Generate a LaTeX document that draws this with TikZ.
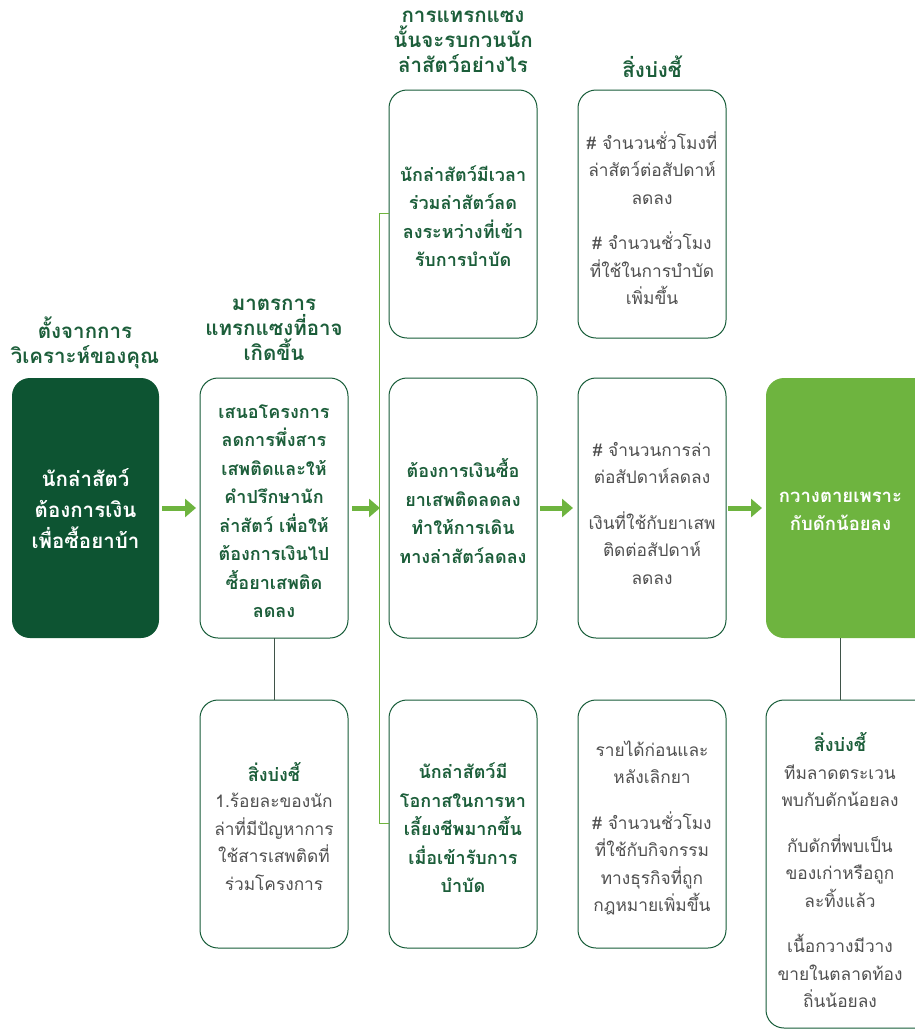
\documentclass[tikz,border=0pt]{standalone}
\usepackage{fontspec}
\newfontfamily\thai[Script=Thai]{Loma}
\usetikzlibrary{arrows.meta}
\definecolor{dgreen}{RGB}{13,84,50}
\definecolor{bgreen}{RGB}{22,92,56}
\definecolor{lgreen}{RGB}{110,180,63}
\definecolor{htext}{RGB}{28,94,58}
\definecolor{gtext}{RGB}{80,80,80}
\tikzset{
  box/.style={draw=bgreen, line width=1pt, rounded corners=18pt, fill=white},
  darkbox/.style={fill=dgreen, rounded corners=18pt},
  greenbox/.style={fill=lgreen, rounded corners=18pt},
  head/.style={align=center, text=htext, font=\thai\bfseries\fontsize{20.5}{25}\selectfont, inner sep=0pt},
  boldtxt/.style={align=center, text=htext, font=\thai\bfseries\fontsize{18}{28.5}\selectfont, inner sep=0pt},
  whitetxt/.style={align=center, text=white, font=\thai\bfseries\fontsize{20.5}{31}\selectfont, inner sep=0pt},
  graytxt/.style={align=center, text=gtext, font=\thai\fontsize{17.3}{27.5}\selectfont, inner sep=0pt},
  flow/.style={lgreen, line width=5pt, -{Triangle[length=11pt,width=18pt]}},
  link/.style={draw=gtext!70!bgreen, line width=0.8pt},
  bracket/.style={draw=lgreen, line width=0.8pt},
}
\begin{document}
\begin{tikzpicture}[x=1pt,y=-1pt]
\useasboundingbox (0,0) rectangle (915,1031);
\clip (0,0) rectangle (915,1031);
% headers
\node[head] (h1) at (85,343) {ตั้งจากการ\\วิเคราะห์ของคุณ};
\node[head] (h2) at (274,330) {มาตรการ\\แทรกแซงที่อาจ\\เกิดขึ้น};
\node[head] (h3) at (463,42) {การแทรกแซง\\นั้นจะรบกวนนัก\\ล่าสัตว์อย่างไร};
\node[head] (h4) at (652,67) {สิ่งบ่งชี้};
% column 1
\path[darkbox] (12,378) rectangle (159,638);
\node[whitetxt] (c1) at (85.5,509) {นักล่าสัตว์\\ต้องการเงิน\\เพื่อซื้อยาบ้า};
\coordinate (c1r) at (159,508);
% column 2
\draw[box] (200,378) rectangle (348,638);
\node[boldtxt] (c2) at (274,511) {เสนอโครงการ\\ลดการพึ่งสาร\\เสพติดและให้\\คำปรึกษานัก\\ล่าสัตว์ เพื่อให้\\ต้องการเงินไป\\ซื้อยาเสพติด\\ลดลง};
\coordinate (c2t) at (274,638);
\coordinate (c2l) at (200,508);
\coordinate (c2r) at (348,508);
\draw[box] (200,700) rectangle (348,948);
\coordinate (c2bt) at (274,700);
\node[boldtxt] (c2bh) at (274,772) {สิ่งบ่งชี้};
\node[graytxt] (c2b) at (274,842) {1.ร้อยละของนัก\\ล่าที่มีปัญหาการ\\ใช้สารเสพติดที่\\ร่วมโครงการ};
% column 3
\draw[box] (389,90) rectangle (537,338);
\node[boldtxt] (c3a) at (463,216) {นักล่าสัตว์มีเวลา\\ร่วมล่าสัตว์ลด\\ลงระหว่างที่เข้า\\รับการบำบัด};
\draw[box] (389,378) rectangle (537,638);
\node[boldtxt] (c3b) at (463,511) {ต้องการเงินซื้อ\\ยาเสพติดลดลง\\ทำให้การเดิน\\ทางล่าสัตว์ลดลง};
\draw[box] (389,700) rectangle (537,948);
\node[boldtxt] (c3c) at (463,828) {นักล่าสัตว์มี\\โอกาสในการหา\\เลี้ยงชีพมากขึ้น\\เมื่อเข้ารับการ\\บำบัด};
\coordinate (c3l) at (389,508);
\coordinate (c3r) at (537,508);
\coordinate (bt) at (379,213);
\coordinate (bb) at (379,823);
\coordinate (c3at) at (389,213);
\coordinate (c3ct) at (389,823);
% column 4
\draw[box] (578,90) rectangle (726,338);
\node[graytxt] (c4a) at (652,218) {\# จำนวนชั่วโมงที่\\ล่าสัตว์ต่อสัปดาห์\\ลดลง\\[18pt]\# จำนวนชั่วโมง\\ที่ใช้ในการบำบัด\\เพิ่มขึ้น};
\draw[box] (578,378) rectangle (726,638);
\node[graytxt] (c4b) at (652,513) {\# จำนวนการล่า\\ต่อสัปดาห์ลดลง\\[18pt]เงินที่ใช้กับยาเสพ\\ติดต่อสัปดาห์\\ลดลง};
\draw[box] (578,700) rectangle (726,948);
\node[graytxt] (c4c) at (652,828) {รายได้ก่อนและ\\หลังเลิกยา\\[18pt]\# จำนวนชั่วโมง\\ที่ใช้กับกิจกรรม\\ทางธุรกิจที่ถูก\\กฎหมายเพิ่มขึ้น};
\coordinate (c4l) at (578,508);
\coordinate (c4r) at (726,508);
% column 5
\path[greenbox] (766,378) rectangle (935,638);
\node[whitetxt, font=\thai\bfseries\fontsize{18.5}{28}\selectfont] (c5) at (840.5,511) {กวางตายเพราะ\\กับดักน้อยลง};
\coordinate (c5l) at (766,508);
\coordinate (c5t) at (840,638);
\draw[box] (766,700) rectangle (935,1028);
\coordinate (c5bt) at (840,700);
\node[boldtxt] (c5bh) at (840,742) {สิ่งบ่งชี้};
\node[graytxt] (c5b) at (840,886) {ทีมลาดตระเวน\\พบกับดักน้อยลง\\[18pt]กับดักที่พบเป็น\\ของเก่าหรือถูก\\ละทิ้งแล้ว\\[18pt]เนื้อกวางมีวาง\\ขายในตลาดท้อง\\ถิ่นน้อยลง};
% connectors
\draw[flow] ([xshift=3pt]c1r) -- ([xshift=-4pt]c2l);
\draw[flow] ([xshift=4pt]c2r) -- ([xshift=-9pt]c3l);
\draw[flow] ([xshift=3pt]c3r) -- ([xshift=-5pt]c4l);
\draw[flow] ([xshift=2pt]c4r) -- ([xshift=-4pt]c5l);
\draw[link] (c2t) -- (c2bt);
\draw[link] (c5t) -- (c5bt);
\draw[bracket] (c3at) -- (bt) -- (bb) -- (c3ct);
\end{tikzpicture}
\end{document}
